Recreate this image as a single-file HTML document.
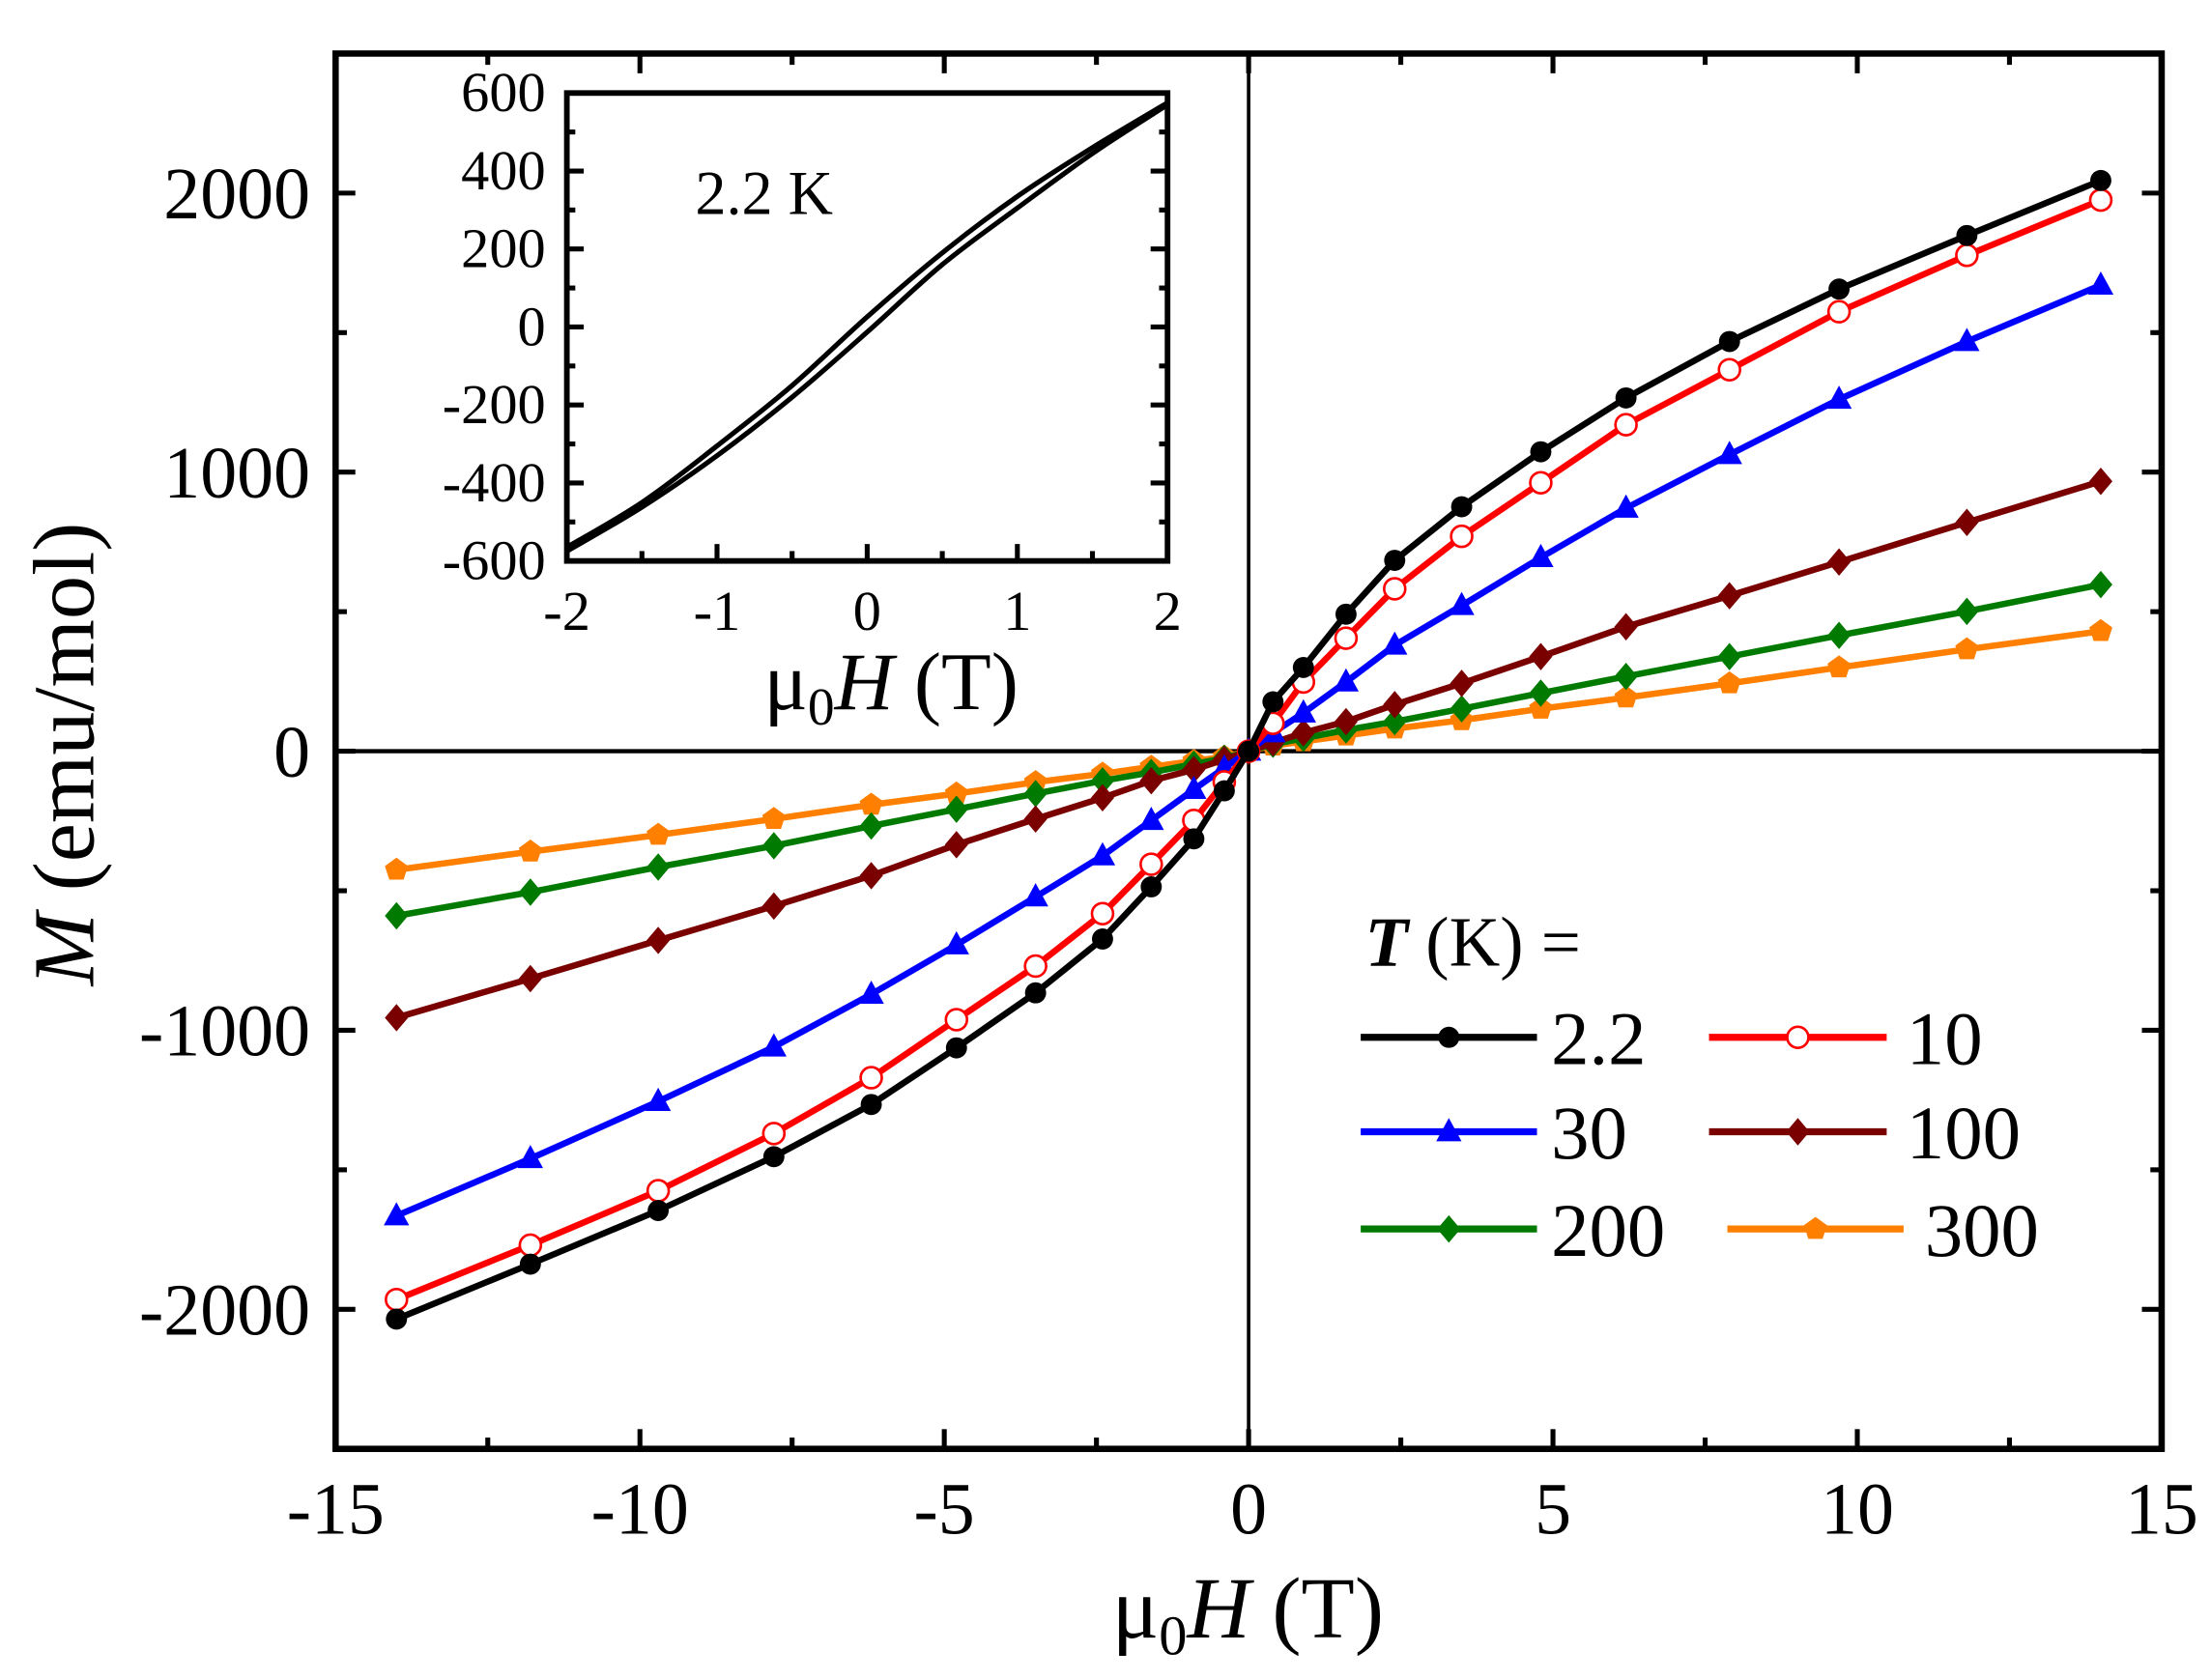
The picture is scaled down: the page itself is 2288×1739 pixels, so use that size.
<!DOCTYPE html>
<html><head><meta charset="utf-8"><style>
html,body{margin:0;padding:0;background:#fff;}
svg{display:block;}
text{font-family:"Liberation Serif",serif;fill:#000;}
</style></head><body>
<svg id="chart" width="2288" height="1739" viewBox="0 0 1568 1192" preserveAspectRatio="none" xmlns="http://www.w3.org/2000/svg">
<g id="main"></g><g id="inset"></g><g id="legend"></g>
</svg>
<script>
// ---------- main chart data ----------
const fieldT = [-14,-11.8,-9.7,-7.8,-6.2,-4.8,-3.5,-2.4,-1.6,-0.9,-0.4,0,0.4,0.9,1.6,2.4,3.5,4.8,6.2,7.9,9.7,11.8,14];
const seriesNames = ["2.2","10","30","100","200","300"];
const m2p2K = [-2035,-1838,-1646,-1453,-1266,-1063,-866,-673,-486,-314,-142,0,177,300,491,684,876,1073,1266,1468,1656,1848,2045];
const m10K = [-1965,-1770,-1575,-1370,-1170,-962,-770,-582,-405,-248,-110,0,100,248,405,582,770,962,1170,1367,1575,1777,1975];
const m30K = [-1665,-1460,-1255,-1060,-871,-694,-522,-375,-248,-137,-60,0,66,137,248,380,522,694,871,1063,1261,1468,1670];
const m100K = [-955,-815,-678,-555,-446,-335,-243,-167,-106,-66,-30,0,30,66,106,167,243,339,446,557,678,820,967];
const m200K = [-590,-505,-415,-339,-268,-208,-152,-106,-76,-46,-25,0,25,46,76,106,152,208,268,339,415,501,597];
const m300K = [-425,-360,-300,-243,-192,-152,-111,-81,-56,-35,-20,0,20,35,56,81,111,152,192,243,300,365,430];
const xTickLabels = ["-15","-10","-5","0","5","10","15"];
const yTickLabels = ["-2000","-1000","0","1000","2000"];
// ---------- inset data ----------
const insetField = [-2,-1.5,-1,-0.5,0,0.5,1,1.5,2];
const insetUpper = [-565,-450,-305,-150,26,190,335,460,575];
const insetLower = [-575,-462,-330,-180,-13,160,305,445,570];
const insetXTickLabels = ["-2","-1","0","1","2"];
const insetYTickLabels = ["-600","-400","-200","0","200","400","600"];

const NS="http://www.w3.org/2000/svg";
function mk(tag,attrs,parent){const e=document.createElementNS(NS,tag);for(const k in attrs)e.setAttribute(k,attrs[k]);parent.appendChild(e);return e;}
const main=document.getElementById('main');
const L=238,R=1533,T=38,B=1028;
const X=v=>L+(v+15)/30*(R-L);
const Y=v=>B-(v+2500)/5000*(B-T);

let e=mk('line',{x1:X(0),x2:X(0),y1:T,y2:B,stroke:'#000','stroke-width':2.5},main);

e=mk('line',{x1:L,x2:R,y1:Y(0),y2:Y(0),stroke:'#000','stroke-width':3},main);


for(let v=-15;v<=15;v+=2.5){const maj=(v%5===0);const len=maj?14:8;
 mk('line',{x1:X(v),x2:X(v),y1:B,y2:B-len,stroke:'#000','stroke-width':3.5},main);
 mk('line',{x1:X(v),x2:X(v),y1:T,y2:T+len,stroke:'#000','stroke-width':3.5},main);}
for(let v=-2500;v<=2500;v+=500){const maj=(v%1000===0);const len=maj?14:8;
 mk('line',{x1:L,x2:L+len,y1:Y(v),y2:Y(v),stroke:'#000','stroke-width':3.5},main);
 mk('line',{x1:R,x2:R-len,y1:Y(v),y2:Y(v),stroke:'#000','stroke-width':3.5},main);}
xTickLabels.forEach(s=>{const t=mk('text',{x:X(+s),y:1088,'font-size':52,'text-anchor':'middle'},main);t.textContent=s;
 });
yTickLabels.forEach(s=>{const t=mk('text',{x:220,y:Y(+s)+18,'font-size':52,'text-anchor':'end'},main);t.textContent=s;
 });

let xt=mk('text',{x:885,y:1162,'font-size':62,'text-anchor':'middle'},main);

xt.innerHTML='μ<tspan font-size="40" dy="12">0</tspan><tspan dy="-12" font-style="italic">H</tspan> (T)';
let yt=mk('text',{x:0,y:0,'font-size':62,'text-anchor':'middle',transform:'translate(66,535) rotate(-90)'},main);

yt.innerHTML='<tspan font-style="italic">M</tspan> (emu/mol)';

function marker(g,type,cx,cy,color,r){
 if(type==='circle')return mk('circle',{cx,cy,r,fill:color},g);
 if(type==='open')return mk('circle',{cx,cy,r:r,fill:'#fff',stroke:color,'stroke-width':1.8},g);
 if(type==='tri')return mk('polygon',{points:`${cx},${cy-r*1.3} ${cx-r*1.2},${cy+r*0.9} ${cx+r*1.2},${cy+r*0.9}`,fill:color},g);
 if(type==='dia')return mk('polygon',{points:`${cx},${cy-r*1.3} ${cx+r*1.1},${cy} ${cx},${cy+r*1.3} ${cx-r*1.1},${cy}`,fill:color},g);
 if(type==='pent'){let p=[];for(let i=0;i<5;i++){const a=-Math.PI/2+i*2*Math.PI/5;p.push((cx+r*1.15*Math.cos(a))+','+(cy+r*1.15*Math.sin(a)));}
  return mk('polygon',{points:p.join(' '),fill:color},g);}
}
const seriesData=[m2p2K,m10K,m30K,m100K,m200K,m300K];
const colors=['#000000','#ff0000','#0000ff','#7a0000','#007a00','#ff8000'];
const mtypes=['circle','open','tri','dia','dia','pent'];
for(let s=seriesData.length-1;s>=0;s--){
 const g=mk('g',{},main);
 
 
 const pts=fieldT.map((f,i)=>X(f)+','+Y(seriesData[s][i])).join(' ');
 mk('polyline',{points:pts,fill:'none',stroke:colors[s],'stroke-width':4.5,'stroke-linejoin':'round'},g);
 fieldT.forEach((f,i)=>{const m=marker(g,mtypes[s],X(f),Y(seriesData[s][i]),colors[s],7.5);
  });
}
e=mk('rect',{x:L,y:T,width:R-L,height:B-T,fill:'none',stroke:'#000','stroke-width':4.5},main);


// ---------- inset ----------
const inset=document.getElementById('inset');

const iL=402,iR=828,iT=66,iB=398;
const IX=v=>iL+(v+2)/4*(iR-iL);
const IY=v=>iB-(v+600)/1200*(iB-iT);
mk('rect',{x:iL,y:iT,width:iR-iL,height:iB-iT,fill:'#fff',stroke:'none'},inset);
for(let v=-2;v<=2;v+=0.5){const maj=Number.isInteger(v);const len=maj?12:7;
 mk('line',{x1:IX(v),x2:IX(v),y1:iB,y2:iB-len,stroke:'#000','stroke-width':3.5},inset);}
for(let v=-600;v<=600;v+=100){const maj=(v%200===0);const len=maj?12:6;
 mk('line',{x1:iL,x2:iL+len,y1:IY(v),y2:IY(v),stroke:'#000','stroke-width':3.5},inset);
 mk('line',{x1:iR,x2:iR-len,y1:IY(v),y2:IY(v),stroke:'#000','stroke-width':3.5},inset);}
insetXTickLabels.forEach(s=>{const t=mk('text',{x:IX(+s),y:447,'font-size':40,'text-anchor':'middle'},inset);t.textContent=s;
 });
insetYTickLabels.forEach(s=>{const t=mk('text',{x:387,y:IY(+s)+13,'font-size':40,'text-anchor':'end'},inset);t.textContent=s;
 });
function smooth(xs,ys){let d='M'+IX(xs[0])+','+IY(ys[0]);
 for(let i=0;i<xs.length-1;i++){const p0=[IX(xs[Math.max(0,i-1)]),IY(ys[Math.max(0,i-1)])],p1=[IX(xs[i]),IY(ys[i])],p2=[IX(xs[i+1]),IY(ys[i+1])],p3=[IX(xs[Math.min(xs.length-1,i+2)]),IY(ys[Math.min(xs.length-1,i+2)])];
  d+=` C${p1[0]+(p2[0]-p0[0])/6},${p1[1]+(p2[1]-p0[1])/6} ${p2[0]-(p3[0]-p1[0])/6},${p2[1]-(p3[1]-p1[1])/6} ${p2[0]},${p2[1]}`;}
 return d;}
e=mk('path',{d:smooth(insetField,insetUpper),fill:'none',stroke:'#000','stroke-width':3.5},inset);

e=mk('path',{d:smooth(insetField,insetLower),fill:'none',stroke:'#000','stroke-width':3.5},inset);

mk('rect',{x:iL,y:iT,width:iR-iL,height:iB-iT,fill:'none',stroke:'#000','stroke-width':4},inset);
let it=mk('text',{x:493,y:152,'font-size':44},inset);it.textContent='2.2 K';

let ixt=mk('text',{x:632,y:503,'font-size':58,'text-anchor':'middle'},inset);
ixt.innerHTML='μ<tspan font-size="38" dy="11">0</tspan><tspan dy="-11" font-style="italic">H</tspan> (T)';


// ---------- legend ----------
const leg=document.getElementById('legend');

let lt=mk('text',{x:968,y:685,'font-size':50},leg);
lt.innerHTML='<tspan font-style="italic" font-weight="bold">T</tspan> (K) =';

const legRows=[736,803,872,736,803,872];
const legLineX=[[965,1090],[965,1090],[965,1090],[1212,1338],[1212,1338],[1225,1350]];
const legTextX=[1100,1100,1100,1352,1352,1365];
const legOrder=[0,2,4,1,3,5];
legOrder.forEach((s,k)=>{const g=mk('g',{},leg);
 
 const y=legRows[k],[a,b]=legLineX[k];
 mk('line',{x1:a,x2:b,y1:y,y2:y,stroke:colors[s],'stroke-width':5},g);
 marker(g,mtypes[s],(a+b)/2,y,colors[s],7.5);
 const t=mk('text',{x:legTextX[k],y:y+19,'font-size':54},g);t.textContent=seriesNames[s];});
</script>
</body></html>
